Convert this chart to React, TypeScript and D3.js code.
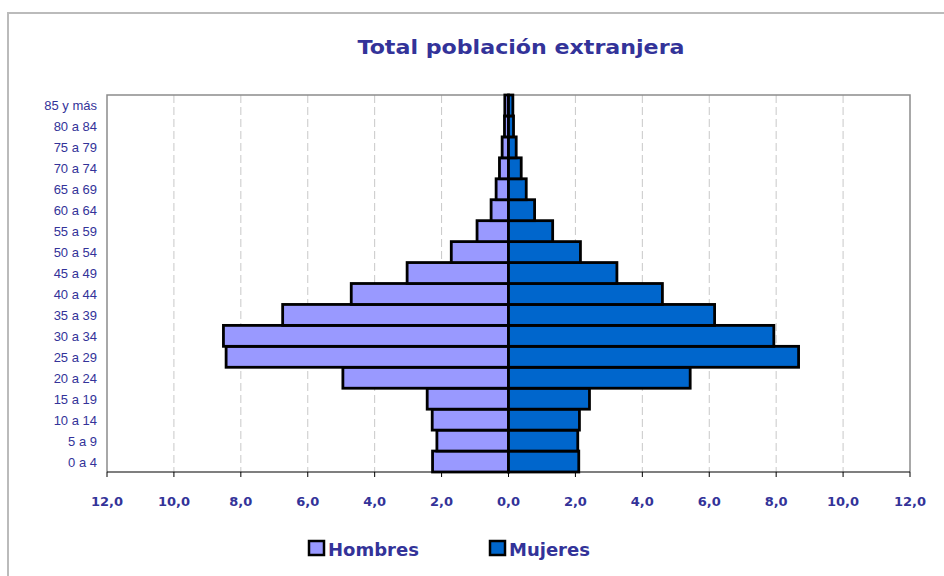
import React from "react";
import * as d3 from "d3";

const ageGroups = [
  "0 a 4", "5 a 9", "10 a 14", "15 a 19", "20 a 24", "25 a 29", "30 a 34",
  "35 a 39", "40 a 44", "45 a 49", "50 a 54", "55 a 59", "60 a 64", "65 a 69",
  "70 a 74", "75 a 79", "80 a 84", "85 y más",
];
const hombres = [2.27, 2.14, 2.28, 2.43, 4.95, 8.44, 8.52, 6.75, 4.7, 3.03, 1.71, 0.94, 0.52, 0.37, 0.27, 0.19, 0.12, 0.11];
const mujeres = [2.1, 2.07, 2.12, 2.42, 5.43, 8.67, 7.93, 6.16, 4.6, 3.24, 2.15, 1.32, 0.78, 0.53, 0.38, 0.23, 0.15, 0.13];
const xTicks = [-12, -10, -8, -6, -4, -2, 0, 2, 4, 6, 8, 10, 12];
const title = "Total población extranjera";
const seriesNames = ["Hombres", "Mujeres"];
const seriesColors = ["#9999ff", "#0066cc"];

export default function App() {
  const left = 107, right = 910, top = 95, bottom = 472;
  const x = d3.scaleLinear().domain([-12, 12]).range([left, right]);
  const y = d3
    .scaleBand<string>()
    .domain([...ageGroups].reverse())
    .range([top, bottom])
    .padding(0);
  const fmt = (v: number) => Math.abs(v).toFixed(1).replace(".", ",");
  const textColor = "#333399";

  return (
    <svg
      width={944}
      height={576}
      style={{ position: "absolute", left: 0, top: 0, display: "block", background: "#fff" }}
    >
      <rect x={8} y={13} width={1000} height={1000} fill="#fff" stroke="#bbbbbb" strokeWidth={2} />
      <text
        x={521}
        y={54}
        textAnchor="middle"
        fontFamily="DejaVu Sans, Verdana, sans-serif"
        fontWeight="bold"
        fontSize={20}
        fill={textColor}
        textLength={327}
        lengthAdjust="spacingAndGlyphs"
      >
        {title}
      </text>

      {/* gridlines */}
      {xTicks
        .filter((t) => t !== -12 && t !== 12 && t !== 0)
        .map((t) => (
          <line
            key={"g" + t}
            x1={x(t)}
            x2={x(t)}
            y1={top}
            y2={bottom}
            stroke="#c8c8c8"
            strokeWidth={1}
            strokeDasharray="8,4"
          />
        ))}
      {/* plot border */}
      <path
        d={`M${left},${bottom}V${top}H${right}V${bottom}`}
        fill="none"
        stroke="#8c8c8c"
        strokeWidth={1.5}
      />

      {/* bars */}
      {ageGroups.map((g, i) => (
        <g key={g}>
          <rect
            x={x(-hombres[i])}
            y={y(g)!}
            width={x(0) - x(-hombres[i])}
            height={y.bandwidth()}
            fill={seriesColors[0]}
            stroke="#000"
            strokeWidth={2.8}
          />
          <rect
            x={x(0)}
            y={y(g)!}
            width={x(mujeres[i]) - x(0)}
            height={y.bandwidth()}
            fill={seriesColors[1]}
            stroke="#000"
            strokeWidth={2.8}
          />
        </g>
      ))}

      {/* y labels */}
      {ageGroups.map((g) => (
        <text
          key={"l" + g}
          x={97}
          y={y(g)! + y.bandwidth() / 2 + 5}
          textAnchor="end"
          fontFamily="Liberation Sans, Arial, sans-serif"
          fontSize={13}
          fill={textColor}
        >
          {g}
        </text>
      ))}

      {/* x axis */}
      <line x1={left} x2={right} y1={bottom} y2={bottom} stroke="#000" strokeWidth={1.2} />
      {xTicks.map((t) => (
        <g key={"t" + t}>
          <line x1={x(t)} x2={x(t)} y1={bottom} y2={bottom + 5} stroke="#000" strokeWidth={1} />
          <text
            x={x(t)}
            y={506}
            textAnchor="middle"
            fontFamily="DejaVu Sans, Verdana, sans-serif"
            fontWeight="bold"
            fontSize={13}
            fill={textColor}
          >
            {fmt(t)}
          </text>
        </g>
      ))}

      {/* legend */}
      {seriesNames.map((n, i) => {
        const lx = i === 0 ? 309 : 490;
        return (
          <g key={n}>
            <rect x={lx} y={541} width={15} height={14} fill={seriesColors[i]} stroke="#000" strokeWidth={2.5} />
            <text
              x={lx + 19}
              y={556}
              fontFamily="DejaVu Sans, Verdana, sans-serif"
              fontWeight="bold"
              fontSize={18}
              fill={textColor}
            >
              {n}
            </text>
          </g>
        );
      })}
    </svg>
  );
}
